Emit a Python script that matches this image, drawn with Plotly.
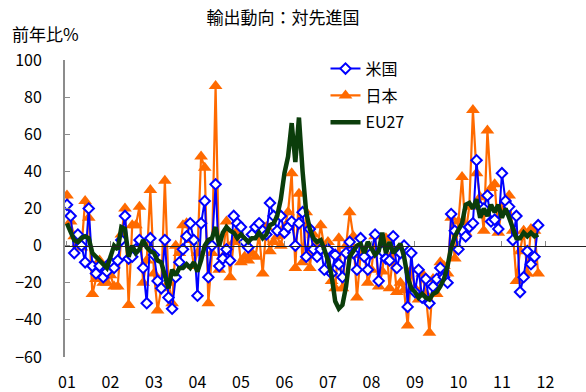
import plotly.graph_objects as go

# Monthly year-on-year export growth (%), Jan 2001 - Nov 2011
year_labels = ["01", "02", "03", "04", "05", "06", "07", "08", "09", "10", "11", "12"]

usa = [22, 16, -4, 6, 0, -9, 20, -11, -15, -11, -17, -14,
       -9, -12, -8, 3, 16, -7, -6, -2, 3, -12, -31, 4,
       -5, -19, -23, 3, -28, -34, -17, -9, -2, 5, 12, 3,
       -27, 12, 24, -17, 0, 33, -11, -7, -2, -8, 16, 12,
       10, 2, -1, 6, 10, 12, 8, 6, 23, 16, 8, 16,
       7, 10, 13, 0, 12, 18, -6, 9, -2, -6, -2, -13,
       -2, -15, -5, -10, -17, -4, 2, -4, -13, 4, -6, -13,
       -4, 6, -19, -3, -7, -8, 5, -12, -4, 0, -33, -4,
       -25, -13, -28, -18, -31, -22, -18, -12, -17, -20, 17, 8,
       -2, 8, 5, 10, 12, 46, 21, 20, 27, 13, 14, 9,
       39, 24, 21, 3, 16, -25, -17, -3, -10, -6, 11]

japan = [27, 13, 5, 1, -1, 24, 15, -26, -18, -8, -20, -20,
         -16, -22, -22, 6, 20, -32, 11, 11, 21, -20, -8, 30,
         -15, -35, -23, 35, -20, -31, 0, -4, 11, 12, 3, -11,
         -4, 48, 42, -31, -4, 86, -13, -6, 13, -17, 2, 8,
         -9, -6, -8, -4, -6, 6, -15, 10, -3, 2, 5, 0,
         10, 18, 39, -12, 28, -9, 18, -12, 6, -3, 11, -1,
         2, -19, -23, 4, -23, 0, 18, 5, -28, -5, -3, -20,
         -13, 5, -22, -14, 4, -23, -4, -25, -20, -24, -43, -13,
         -23, -29, -15, -26, -47, -18, -26, -9, -11, -15, 15, -7,
         13, 37, 7, 21, 73, 39, 26, 8, 62, 31, 33, 7,
         21, 19, 27, 8, -19, -3, 8, -15, 9, 8, -15]

eu27 = [12, 7, 3, 2, 4, 5, 4, -4, -6, -8, -10, -12,
        -6, 0, -2, 10, 9, -6, 0, -4, -2, 3, -1, -3,
        -4, -8, -9, -16, -23, -13, -16, -12, -12, -10, -12, -9,
        -14, -8, 0, 3, 4, 10, 0, 7, 10, 8, 7, 4,
        6, 4, 2, 4, 4, 7, 4, 6, 11, 12, 16, 25,
        39, 48, 66, 45, 69, 40, 18, 9, 4, 2, 3, -2,
        -8, -16, -30, -34, -32, -22, -6, -3, 0, 1, -4, 2,
        -1, -5, -3, 7, -4, 2, -4, -1, 1, -6, -17, -23,
        -25, -28, -26, -28, -29, -26, -25, -22, -18, -11, -1, 5,
        9, 12, 22, 23, 20, 25, 15, 20, 16, 22, 18, 22,
        15, 20, 15, 9, 4, 4, 7, 5, 7, 5, 6]

months = list(range(len(usa)))
year_ticks = [12 * k for k in range(len(year_labels))]

FONT = "Noto Sans CJK JP"
x_range = [-0.55, 143.2]

fig = go.Figure()

fig.add_trace(go.Scatter(
    x=months, y=japan, name="日本", mode="lines+markers",
    line=dict(color="#FF6A00", width=2.2),
    marker=dict(symbol="triangle-up", size=12, color="#FF6A00"),
    legendrank=2, legendgroup="jp",
))
fig.add_trace(go.Scatter(
    x=months, y=eu27, name="EU27", mode="lines",
    line=dict(color="#0B3D0B", width=4.5),
    legendrank=3, legendgroup="eu", xaxis="x2",
))
fig.add_trace(go.Scatter(
    x=months, y=usa, name="米国", mode="lines+markers",
    line=dict(color="#0000FF", width=2),
    marker=dict(symbol="diamond", size=8, color="white",
                line=dict(color="#0000FF", width=2)),
    legendrank=1, legendgroup="us",
))

fig.update_layout(
    width=586, height=392,
    margin=dict(l=65, r=0, t=60, b=35),
    plot_bgcolor="white", paper_bgcolor="white",
    font=dict(family=FONT, size=16, color="black"),
    title=dict(text="輸出動向：対先進国", x=283 / 586, xanchor="center",
               y=1 - 18 / 392, yanchor="middle",
               font=dict(family=FONT, size=17, color="black")),
    showlegend=True,
    legend=dict(x=0.5, y=1.028, xanchor="left", yanchor="top",
                bgcolor="rgba(0,0,0,0)", tracegroupgap=3,
                font=dict(family=FONT, size=16, color="black")),
    xaxis=dict(range=x_range, tickvals=year_ticks, ticktext=year_labels,
               showline=False, showgrid=False, zeroline=False, ticks="",
               ticklabelstandoff=14, tickfont=dict(family=FONT, size=16)),
    xaxis2=dict(range=x_range, overlaying="x", anchor="free", position=0.375,
                showline=True, linecolor="#222222", linewidth=1,
                tickvals=year_ticks, ticks="inside", ticklen=5,
                tickcolor="#888888", tickwidth=1,
                showticklabels=False, showgrid=False, zeroline=False),
    yaxis=dict(range=[-60, 100], dtick=20, showgrid=False, zeroline=False,
               showline=True, linecolor="#8C8C8C", linewidth=2,
               ticks="inside", ticklen=5, tickcolor="#8C8C8C", tickwidth=1,
               ticklabelstandoff=18, tickfont=dict(family=FONT, size=16)),
    annotations=[dict(text="前年比%", xref="paper", yref="paper",
                      x=-55 / 521, y=1 + 27 / 297, xanchor="left",
                      yanchor="middle", showarrow=False,
                      font=dict(family=FONT, size=17, color="black"))],
)

fig.write_html("out.html")
